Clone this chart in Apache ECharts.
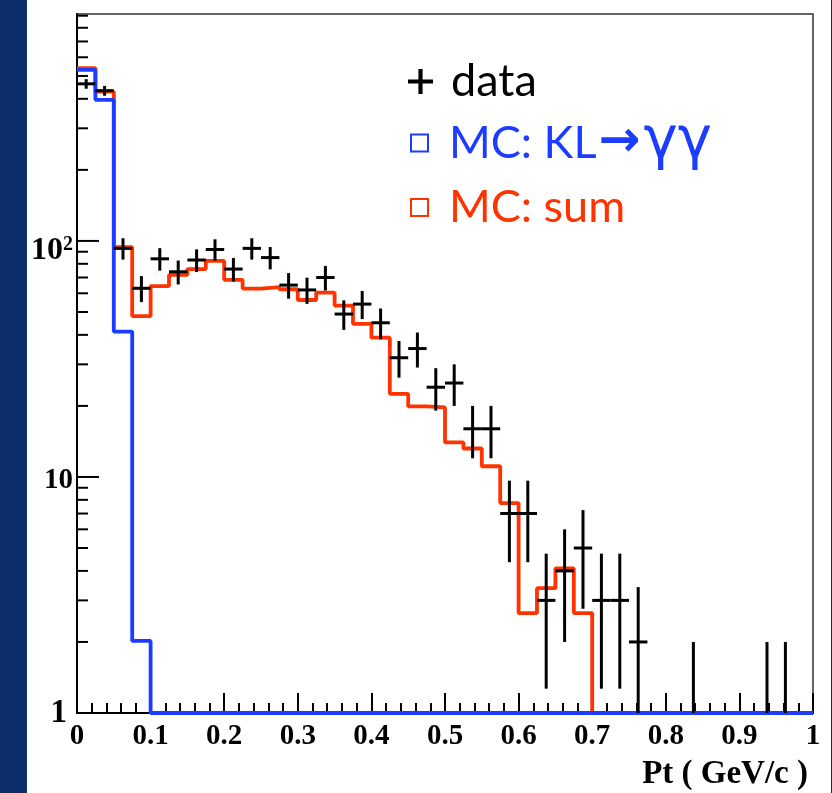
<!DOCTYPE html>
<html>
<head>
<meta charset="utf-8">
<script src="https://cdn.jsdelivr.net/npm/echarts@6/dist/echarts.min.js"></script>
<style>
  html, body { margin: 0; padding: 0; background: #0b2d6b; }
  #main { width: 832px; height: 793px; }
</style>
</head>
<body>
<div id="main"></div>
<script>
// histogram binning: 40 bins of 0.025 GeV/c between 0 and 1
const BIN_WIDTH = 0.025;
const N_BINS = 40;
const Y_MIN = 1;
const Y_MAX = 915;

// counts, one per bin
const dataCounts = [463, 433, 93, 63, 84, 74, 83, 92, 76, 93,
                    85, 65, 62, 70, 49, 54, 45, 32, 35, 24,
                    25, 16, 16, 7, 7, 3, 4, 5, 3, 3,
                    2, 0, 0, 1, 0, 0, 0, 1, 1, 0];
const mcKLgg = [530, 396, 41.3, 2.02, 0, 0, 0, 0, 0, 0,
                0, 0, 0, 0, 0, 0, 0, 0, 0, 0,
                0, 0, 0, 0, 0, 0, 0, 0, 0, 0,
                0, 0, 0, 0, 0, 0, 0, 0, 0, 0];
const mcSum = [540, 429, 94, 48, 64.4, 71.8, 75.9, 82.3, 68.4, 62.8,
               63.7, 62.4, 56.2, 60.4, 53.2, 44.5, 38.9, 22.5, 19.9, 19.7,
               14.0, 13.2, 11.1, 7.75, 2.65, 3.38, 4.1, 2.65, 0, 0,
               0, 0, 0, 0, 0, 0, 0, 0, 0, 0];

const yMajorTicks = [1, 10, 100];
const yMinorTicks = [2, 3, 4, 5, 6, 7, 8, 9, 20, 30, 40, 50, 60, 70, 80, 90,
                     200, 300, 400, 500, 600, 700, 800, 900];

const BLUE = '#1c3cff';
const RED = '#ff3300';
const NAME_KL = 'MC: KL\u2192\u03b3\u03b3';
const NAME_SUM = 'MC: sum';

// step outline of a histogram, empty bins sit on the frame bottom
function stepPoints(counts) {
  const pts = counts.map((v, i) => [i * BIN_WIDTH, Math.max(v, Y_MIN)]);
  pts.push([N_BINS * BIN_WIDTH, Math.max(counts[N_BINS - 1], Y_MIN)]);
  return pts;
}

const errData = [];
dataCounts.forEach((n, i) => {
  if (n > 0) errData.push([(i + 0.5) * BIN_WIDTH, n, i * BIN_WIDTH, (i + 1) * BIN_WIDTH]);
});

const tickData = yMajorTicks.map(v => [0, v, 1]).concat(yMinorTicks.map(v => [0, v, 0]));

const serif = 'Liberation Serif';
const legendFont = 'Lato';

const option = {
  animation: false,
  backgroundColor: '#0b2d6b',
  graphic: [{
    type: 'rect', z: -10, silent: true,
    shape: { x: 27, y: 0, width: 804, height: 793 },
    style: { fill: '#fff' }
  }],
  title: {
    text: 'Pt ( GeV/c )',
    right: 24, top: 758, padding: 0,
    textStyle: { fontFamily: serif, fontWeight: 'bold', fontSize: 33, lineHeight: 32, color: '#000' }
  },
  grid: {
    left: 77, right: 19, top: 14, bottom: 80,
    containLabel: false,
    outerBoundsMode: 'none',
    show: true, borderColor: '#333', borderWidth: 1.5, backgroundColor: 'transparent'
  },
  legend: [{
    data: [{
      name: 'data',
      icon: 'path://M10,0h4v10h10v4h-10v10h-4v-10h-10v-4h10z',
      itemStyle: { color: '#000' },
      textStyle: { color: '#000' }
    }],
    left: 408, top: 59, padding: 0,
    itemWidth: 25, itemHeight: 25,
    selectedMode: false,
    textStyle: { fontFamily: legendFont, fontSize: 45, lineHeight: 44, padding: [0, 0, 0, 13] }
  }, {
    data: [{
      name: NAME_KL, icon: 'rect',
      itemStyle: { color: '#fff', borderColor: BLUE, borderWidth: 2 },
      textStyle: { color: BLUE }
    }, {
      name: NAME_SUM, icon: 'rect',
      itemStyle: { color: '#fff', borderColor: RED, borderWidth: 2 },
      textStyle: { color: RED }
    }],
    orient: 'vertical',
    left: 410, top: 114, padding: 0, itemGap: 13,
    itemWidth: 17, itemHeight: 17,
    selectedMode: false,
    formatter: function (name) {
      if (name === NAME_KL) return '{t|MC: KL}{ar|\u2192}{g|\u03b3\u03b3}';
      return '{t|' + name + '}';
    },
    textStyle: {
      fontFamily: legendFont, fontSize: 45, lineHeight: 44, padding: [0, 0, 0, 16],
      rich: {
        t: { fontFamily: legendFont, fontSize: 45, lineHeight: 44 },
        ar: { fontFamily: 'DejaVu Sans', fontWeight: 'bold', fontSize: 50, lineHeight: 44, padding: [0, 3, 0, 2] },
        g: { fontFamily: 'DejaVu Sans', fontSize: 58, lineHeight: 44 }
      }
    }
  }],
  xAxis: {
    type: 'value',
    min: 0, max: 1, interval: 0.1,
    axisLine: { show: true, onZero: false, lineStyle: { color: '#000', width: 2 } },
    axisTick: { show: true, inside: true, length: 20, lineStyle: { color: '#000', width: 2 } },
    minorTick: { show: true, splitNumber: 5, length: 10, lineStyle: { color: '#000', width: 2 } },
    splitLine: { show: false },
    axisLabel: {
      margin: 9,
      fontFamily: serif, fontWeight: 'bold', fontSize: 29, color: '#000',
      formatter: v => String(Math.round(v * 10) / 10)
    }
  },
  yAxis: {
    type: 'log', logBase: 10,
    min: Y_MIN, max: Y_MAX,
    axisLine: { show: true, lineStyle: { color: '#000', width: 2 } },
    axisTick: { show: false },
    minorTick: { show: false },
    splitLine: { show: false },
    axisLabel: {
      margin: 4,
      showMaxLabel: false,
      color: '#000',
      formatter: function (v) {
        const e = Math.log10(v);
        if (Math.abs(e - Math.round(e)) > 1e-6) return '';
        const p = Math.round(e);
        if (p === 0) return '{one|1}';
        if (p === 1) return '{gapA|}\n{a|10}';
        if (p === 2) return '{gapB|}\n{b|10}{s|2}';
        return '';
      },
      rich: {
        one: { fontFamily: serif, fontWeight: 'bold', fontSize: 33, lineHeight: 33, padding: [0, 6, 0, 0] },
        gapA: { fontSize: 8, lineHeight: 8 },
        a: { fontFamily: serif, fontWeight: 'bold', fontSize: 29, lineHeight: 29 },
        gapB: { fontSize: 20, lineHeight: 20 },
        b: { fontFamily: serif, fontWeight: 'bold', fontSize: 32, lineHeight: 32 },
        s: { fontFamily: serif, fontWeight: 'bold', fontSize: 20, lineHeight: 14, verticalAlign: 'top' }
      }
    }
  },
  series: [{
    name: NAME_SUM,
    type: 'line',
    step: 'end',
    data: stepPoints(mcSum),
    symbol: 'none', showSymbol: false,
    clip: false,
    z: 2,
    itemStyle: { color: RED },
    lineStyle: { color: RED, width: 3.8 }
  }, {
    name: NAME_KL,
    type: 'line',
    step: 'end',
    data: stepPoints(mcKLgg),
    symbol: 'none', showSymbol: false,
    clip: false,
    z: 3,
    itemStyle: { color: BLUE },
    lineStyle: { color: BLUE, width: 3.8 }
  }, {
    name: 'data',
    type: 'custom',
    data: errData,
    encode: { x: 0, y: 1 },
    z: 4,
    itemStyle: { color: '#000' },
    renderItem: function (params, api) {
      const xc = api.value(0), n = api.value(1), lo = api.value(2), hi = api.value(3);
      const err = Math.sqrt(n);
      const pLo = api.coord([xc, Math.max(n - err, Y_MIN)]);
      const pHi = api.coord([xc, n + err]);
      const pL = api.coord([lo, n]);
      const pR = api.coord([hi, n]);
      const st = { stroke: '#000', lineWidth: 3 };
      const children = [
        { type: 'line', shape: { x1: pLo[0], y1: pLo[1], x2: pHi[0], y2: pHi[1] }, style: st }
      ];
      // a point lying on the frame bottom is clipped by the frame
      if (n > Y_MIN) {
        children.push({ type: 'line', shape: { x1: pL[0], y1: pL[1], x2: pR[0], y2: pR[1] }, style: st });
      }
      return { type: 'group', children: children };
    }
  }, {
    // y axis ticks: decades long, 2..9 short
    type: 'custom',
    data: tickData,
    encode: { x: 0, y: 1 },
    silent: true,
    z: 5,
    renderItem: function (params, api) {
      const p = api.coord([api.value(0), api.value(1)]);
      const len = api.value(2) ? 22 : 11;
      return {
        type: 'line',
        shape: { x1: p[0], y1: p[1], x2: p[0] + len, y2: p[1] },
        style: { stroke: '#000', lineWidth: 2 }
      };
    }
  }]
};

const myChart = echarts.init(document.getElementById('main'));
myChart.setOption(option);
window.onresize = function () {
  myChart.resize();
};
</script>
</body>
</html>
